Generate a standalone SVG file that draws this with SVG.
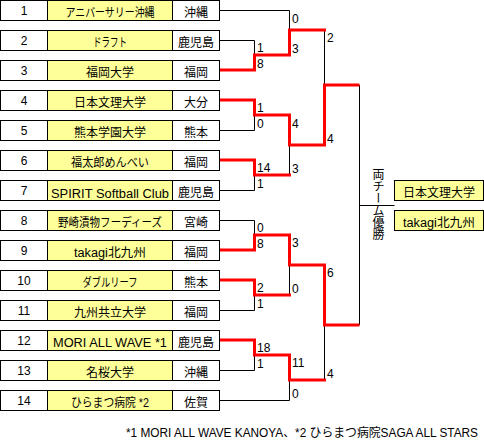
<svg xmlns="http://www.w3.org/2000/svg" width="484" height="443" viewBox="0 0 484 443">
<style>
text{font-family:"Liberation Sans","Noto Sans CJK JP",sans-serif;font-size:12px;fill:#000}
.box{fill:#fff;stroke:#000;stroke-width:1}
.name{fill:#ffff99;stroke:#000;stroke-width:1}
.c{text-anchor:middle}
.nm{font-size:12.5px}
.thin{fill:none;stroke:#000;stroke-width:1}
.red{fill:none;stroke:#ff0000;stroke-width:3;stroke-linejoin:miter;stroke-linecap:square}
</style>
<defs>
<g id="row">
<rect class="box" x="0.5" y="0.5" width="219" height="20"/>
<rect class="name" x="47.5" y="0.5" width="125" height="20"/>
</g>
</defs>

<g id="connectors">
<polyline class="thin" points="219.5,10.5 289.5,10.5 289.5,30"/>
<polyline class="thin" points="219.5,40.5 254.5,40.5 254.5,55"/>
<polyline class="thin" points="219.5,130.5 254.5,130.5 254.5,115"/>
<polyline class="thin" points="219.5,190.5 254.5,190.5 254.5,175"/>
<polyline class="thin" points="289.5,175 289.5,145"/>
<polyline class="thin" points="324.5,30 324.5,85"/>
<polyline class="thin" points="219.5,220.5 254.5,220.5 254.5,235"/>
<polyline class="thin" points="219.5,310.5 254.5,310.5 254.5,295"/>
<polyline class="thin" points="289.5,295 289.5,265"/>
<polyline class="thin" points="219.5,370.5 254.5,370.5 254.5,355"/>
<polyline class="thin" points="219.5,400.5 289.5,400.5 289.5,380"/>
<polyline class="thin" points="324.5,325 324.5,380"/>
<polyline class="thin" points="359.5,85 359.5,325"/>
<polyline class="thin" points="359.5,205.5 394.5,205.5"/>
<polyline class="red" points="221,70 254.5,70 254.5,55 289.5,55 289.5,30 324.5,30"/>
<polyline class="red" points="221,100 254.5,100 254.5,115 289.5,115 289.5,145 324.5,145 324.5,85 358,85"/>
<polyline class="red" points="221,160 254.5,160 254.5,175 289.5,175"/>
<polyline class="red" points="221,250 254.5,250 254.5,235 289.5,235 289.5,265 324.5,265 324.5,325 358,325"/>
<polyline class="red" points="221,280 254.5,280 254.5,295 289.5,295"/>
<polyline class="red" points="221,340 254.5,340 254.5,355 289.5,355 289.5,380 324.5,380"/>
</g>

<g id="scores">
<text x="257" y="52">1</text>
<text x="257" y="68">8</text>
<text x="257" y="112">1</text>
<text x="257" y="128">0</text>
<text x="257" y="172">14</text>
<text x="257" y="188">1</text>
<text x="257" y="232">0</text>
<text x="257" y="248">8</text>
<text x="257" y="292">2</text>
<text x="257" y="308">1</text>
<text x="257" y="352">18</text>
<text x="257" y="368">1</text>
<text x="292" y="22.5">0</text>
<text x="292" y="53">3</text>
<text x="292" y="127.5">4</text>
<text x="292" y="173">3</text>
<text x="292" y="247">3</text>
<text x="292" y="293">0</text>
<text x="292" y="367">11</text>
<text x="292" y="398">0</text>
<text x="327" y="42">2</text>
<text x="327" y="143">4</text>
<text x="327" y="277">6</text>
<text x="327" y="378">4</text>
</g>

<g id="team1" transform="translate(0,0)"><use href="#row"/><text class="c" x="24" y="15">1</text><text class="c" x="110" y="17" textLength="89" lengthAdjust="spacingAndGlyphs">アニバーサリー沖縄</text><text class="c" x="196" y="17">沖縄</text></g>
<g id="team2" transform="translate(0,30)"><use href="#row"/><text class="c" x="24" y="15">2</text><text class="c" x="110" y="17" textLength="34" lengthAdjust="spacingAndGlyphs">ドラフト</text><text class="c" x="196" y="17">鹿児島</text></g>
<g id="team3" transform="translate(0,60)"><use href="#row"/><text class="c" x="24" y="15">3</text><text class="c" x="110" y="17">福岡大学</text><text class="c" x="196" y="17">福岡</text></g>
<g id="team4" transform="translate(0,90)"><use href="#row"/><text class="c" x="24" y="15">4</text><text class="c" x="110" y="17">日本文理大学</text><text class="c" x="196" y="17">大分</text></g>
<g id="team5" transform="translate(0,120)"><use href="#row"/><text class="c" x="24" y="15">5</text><text class="c" x="110" y="17">熊本学園大学</text><text class="c" x="196" y="17">熊本</text></g>
<g id="team6" transform="translate(0,150)"><use href="#row"/><text class="c" x="24" y="15">6</text><text class="c" x="110" y="17" textLength="78" lengthAdjust="spacingAndGlyphs">福太郎めんべい</text><text class="c" x="196" y="17">福岡</text></g>
<g id="team7" transform="translate(0,180)"><use href="#row"/><text class="c" x="24" y="15">7</text><text class="c nm" x="110" y="17.5" textLength="118" lengthAdjust="spacingAndGlyphs">SPIRIT Softball Club</text><text class="c" x="196" y="17">鹿児島</text></g>
<g id="team8" transform="translate(0,210)"><use href="#row"/><text class="c" x="24" y="15">8</text><text class="c" x="110" y="17" textLength="104" lengthAdjust="spacingAndGlyphs">野崎漬物フーディーズ</text><text class="c" x="196" y="17">宮崎</text></g>
<g id="team9" transform="translate(0,240)"><use href="#row"/><text class="c" x="24" y="15">9</text><text class="c" x="110" y="16.5" textLength="72" lengthAdjust="spacingAndGlyphs">takagi北九州</text><text class="c" x="196" y="17">福岡</text></g>
<g id="team10" transform="translate(0,270)"><use href="#row"/><text class="c" x="24" y="15">10</text><text class="c" x="110" y="17" textLength="55" lengthAdjust="spacingAndGlyphs">ダブルリーフ</text><text class="c" x="196" y="17">熊本</text></g>
<g id="team11" transform="translate(0,300)"><use href="#row"/><text class="c" x="24" y="15">11</text><text class="c" x="110" y="17">九州共立大学</text><text class="c" x="196" y="17">福岡</text></g>
<g id="team12" transform="translate(0,330)"><use href="#row"/><text class="c" x="24" y="15">12</text><text class="c nm" x="110" y="17.3" textLength="114" lengthAdjust="spacingAndGlyphs">MORI ALL WAVE *1</text><text class="c" x="196" y="17">鹿児島</text></g>
<g id="team13" transform="translate(0,360)"><use href="#row"/><text class="c" x="24" y="15">13</text><text class="c" x="110" y="17">名桜大学</text><text class="c" x="196" y="17">沖縄</text></g>
<g id="team14" transform="translate(0,390)"><use href="#row"/><text class="c" x="24" y="15">14</text><text class="c" x="110" y="17" textLength="78" lengthAdjust="spacingAndGlyphs">ひらまつ病院 *2</text><text class="c" x="196" y="17">佐賀</text></g>

<g id="champion-label"><text x="377" y="168" writing-mode="vertical-rl">両チーム優勝</text></g>
<g id="winner1"><rect class="name" x="394.5" y="180.5" width="89" height="20"/><text class="c" x="439" y="197">日本文理大学</text></g>
<g id="winner2"><rect class="name" x="394.5" y="210.5" width="89" height="20"/><text class="c" x="439" y="226.5" textLength="72" lengthAdjust="spacingAndGlyphs">takagi北九州</text></g>

<g id="footnote"><text x="126" y="437" textLength="352" lengthAdjust="spacingAndGlyphs">*1 MORI ALL WAVE KANOYA、*2 ひらまつ病院SAGA ALL STARS</text></g>
</svg>
